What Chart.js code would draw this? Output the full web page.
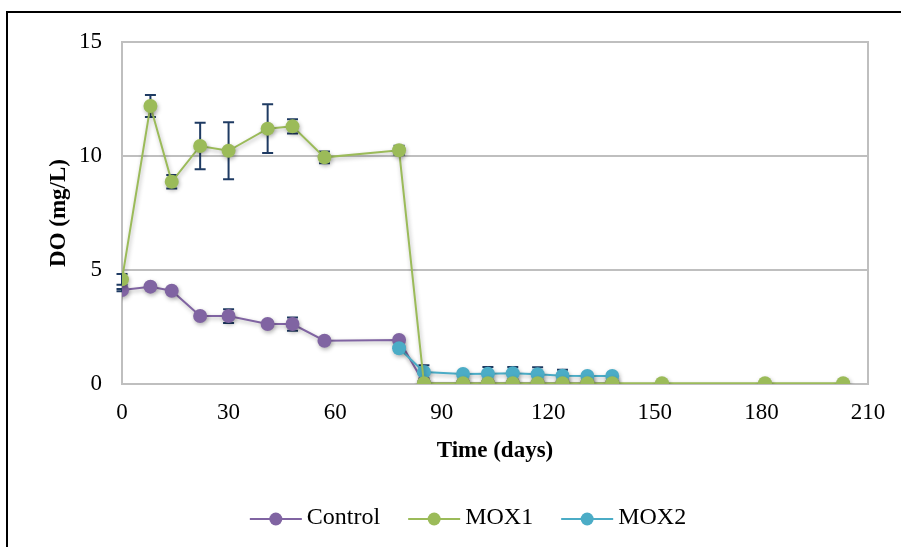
<!DOCTYPE html>
<html>
<head>
<meta charset="utf-8">
<script src="https://cdn.jsdelivr.net/npm/chart.js@4"></script>
<style>
  html, body { margin: 0; padding: 0; background: #fff; overflow: hidden; }
  #wrap { position: relative; width: 901px; height: 547px; }
  #frame { position: absolute; left: 6px; top: 11px; width: 1000px; height: 1000px;
           border: 2px solid #000; pointer-events: none; }
</style>
</head>
<body>
<div id="wrap">
  <canvas id="Chart" width="901" height="547"></canvas>
  <div id="frame"></div>
</div>
<script>
// 数据
const controlDays = [0, 8, 14, 22, 30, 41, 48, 57, 78, 85, 96, 103, 110, 117, 124, 131, 138];
const controlDO   = [4.12, 4.27, 4.09, 2.98, 2.98, 2.63, 2.63, 1.90, 1.93, 0.03, 0.03, 0.03, 0.03, 0.03, 0.03, 0.03, 0.03];
const controlErr  = [0.05, 0.05, 0.05, 0.05, 0.30, 0.05, 0.29, 0.05, 0.05, 0, 0, 0, 0, 0, 0, 0, 0];

const mox1Days = [0, 8, 14, 22, 30, 41, 48, 57, 78, 85, 96, 103, 110, 117, 124, 131, 138, 152, 181, 203];
const mox1DO   = [4.59, 12.19, 8.87, 10.44, 10.23, 11.20, 11.30, 9.94, 10.25, 0.03, 0.03, 0.03, 0.03, 0.03, 0.03, 0.03, 0.03, 0.03, 0.03, 0.03];
const mox1Err  = [0.24, 0.48, 0.30, 1.02, 1.25, 1.07, 0.31, 0.26, 0.20, 0, 0, 0, 0, 0, 0, 0, 0, 0, 0, 0];

const mox2Days = [78, 85, 96, 103, 110, 117, 124, 131, 138];
const mox2DO   = [1.57, 0.53, 0.44, 0.45, 0.47, 0.43, 0.36, 0.35, 0.35];
const mox2Err  = [0.05, 0.29, 0.05, 0.30, 0.28, 0.30, 0.27, 0.05, 0.05];

const xTicks = [0, 30, 60, 90, 120, 150, 180, 210];
const yTicks = [0, 5, 10, 15];

const FONT = 'Liberation Serif, Times New Roman, serif';

function toPoints(xs, ys) {
    return xs.map((x, i) => ({ x: x, y: ys[i] }));
}

function series(label, xs, ys, color, order, err) {
    return {
        label: label,
        data: toPoints(xs, ys),
        errors: err,
        borderColor: color,
        backgroundColor: color,
        pointBackgroundColor: color,
        pointBorderColor: color,
        pointRadius: 7,
        pointBorderWidth: 0,
        borderWidth: 2,
        tension: 0,
        order: order,
    };
}

// 绘图区边框 + 误差线（误差线画在点的下面）
const frameAndErrors = {
    id: 'frameAndErrors',
    beforeDatasetsDraw(chart) {
        const { ctx, chartArea: a } = chart;
        const xs = chart.scales.x, ys = chart.scales.y;
        ctx.save();
        ctx.strokeStyle = '#BFBFBF';
        ctx.lineWidth = 2;
        ctx.strokeRect(a.left, a.top, a.right - a.left, a.bottom - a.top);
        ctx.strokeStyle = '#1F3B63';
        ctx.lineWidth = 2;
        chart.data.datasets.forEach(ds => {
            ds.data.forEach((p, i) => {
                const e = ds.errors[i];
                if (!e) return;
                const px = xs.getPixelForValue(p.x);
                const top = ys.getPixelForValue(p.y + e);
                const bot = ys.getPixelForValue(Math.max(p.y - e, 0));
                ctx.beginPath();
                ctx.moveTo(px, top); ctx.lineTo(px, bot);
                ctx.moveTo(px - 5.5, top); ctx.lineTo(px + 5.5, top);
                ctx.moveTo(px - 5.5, bot); ctx.lineTo(px + 5.5, bot);
                ctx.stroke();
            });
        });
        ctx.restore();
    }
};

// 阴影（Excel 风格）
const shadowPlugin = {
    id: 'shadow',
    beforeDatasetsDraw(chart) {
        const c = chart.ctx;
        c.save();
        c.shadowColor = 'rgba(0,0,0,0.30)';
        c.shadowBlur = 4;
        c.shadowOffsetX = 1;
        c.shadowOffsetY = 2;
    },
    afterDatasetsDraw(chart) {
        chart.ctx.restore();
    }
};

// 图例：整体右移 + 线和圆点
const legendSymbols = {
    id: 'legendSymbols',
    afterLayout(chart) {
        const lg = chart.legend;
        if (!lg) return;
        lg.left += 30;
        lg.right += 30;
    },
    afterDraw(chart) {
        const lg = chart.legend;
        if (!lg || !lg.legendHitBoxes) return;
        const ctx = chart.ctx;
        lg.legendItems.forEach((item, i) => {
            const hb = lg.legendHitBoxes[i];
            const ds = chart.data.datasets[item.datasetIndex];
            const cy = hb.top + hb.height / 2 + 1;
            const x0 = hb.left, x1 = hb.left + 52;
            ctx.save();
            ctx.strokeStyle = ds.borderColor;
            ctx.lineWidth = 2;
            ctx.beginPath();
            ctx.moveTo(x0, cy); ctx.lineTo(x1, cy);
            ctx.stroke();
            ctx.fillStyle = ds.borderColor;
            ctx.beginPath();
            ctx.arc((x0 + x1) / 2, cy, 6.5, 0, Math.PI * 2);
            ctx.fill();
            ctx.restore();
        });
    }
};

const ctx = document.getElementById('Chart');

const chart = new Chart(ctx, {
    type: 'line',
    data: {
        datasets: [
            series('Control', controlDays, controlDO, '#8064A2', 2, controlErr),
            series('MOX1', mox1Days, mox1DO, '#9BBB59', 0, mox1Err),
            series('MOX2', mox2Days, mox2DO, '#4BACC6', 1, mox2Err),
        ]
    },
    options: {
        responsive: false,
        animation: false,
        layout: { padding: { left: 8, top: 42, right: 33, bottom: 7 } },
        plugins: {
            tooltip: { enabled: false },
            legend: {
                position: 'bottom',
                labels: {
                    font: { family: FONT, size: 24 },
                    color: '#000',
                    boxWidth: 45,
                    boxHeight: 23,
                    padding: 28,
                    sort: (a, b) => a.datasetIndex - b.datasetIndex,
                    generateLabels(chart) {
                        const items = Chart.defaults.plugins.legend.labels.generateLabels(chart);
                        items.forEach(it => {
                            it.fillStyle = 'rgba(0,0,0,0)';
                            it.strokeStyle = 'rgba(0,0,0,0)';
                            it.lineWidth = 0;
                        });
                        return items;
                    }
                }
            }
        },
        scales: {
            x: {
                type: 'linear',
                min: 0,
                max: 210,
                afterBuildTicks(scale) { scale.ticks = xTicks.map(v => ({ value: v })); },
                afterFit(scale) { scale.height = 94; },
                grid: { display: false, drawTicks: false },
                border: { display: false },
                ticks: { font: { family: FONT, size: 23 }, color: '#000', padding: 15, maxRotation: 0 },
                title: {
                    display: true,
                    text: 'Time (days)',
                    color: '#000',
                    font: { family: FONT, size: 23, weight: 'bold' },
                    padding: { top: 0, bottom: 13 }
                }
            },
            y: {
                min: 0,
                max: 15,
                afterBuildTicks(scale) { scale.ticks = yTicks.map(v => ({ value: v })); },
                afterFit(scale) { scale.width = 114; },
                grid: { color: '#BFBFBF', lineWidth: 2, drawTicks: false },
                border: { display: false },
                ticks: { font: { family: FONT, size: 23 }, color: '#000', padding: 20 },
                title: {
                    display: true,
                    text: 'DO (mg/L)',
                    color: '#000',
                    font: { family: FONT, size: 23, weight: 'bold' },
                    padding: { top: 37, bottom: 0 }
                }
            }
        }
    },
    plugins: [frameAndErrors, shadowPlugin, legendSymbols]
});
</script>
</body>
</html>
